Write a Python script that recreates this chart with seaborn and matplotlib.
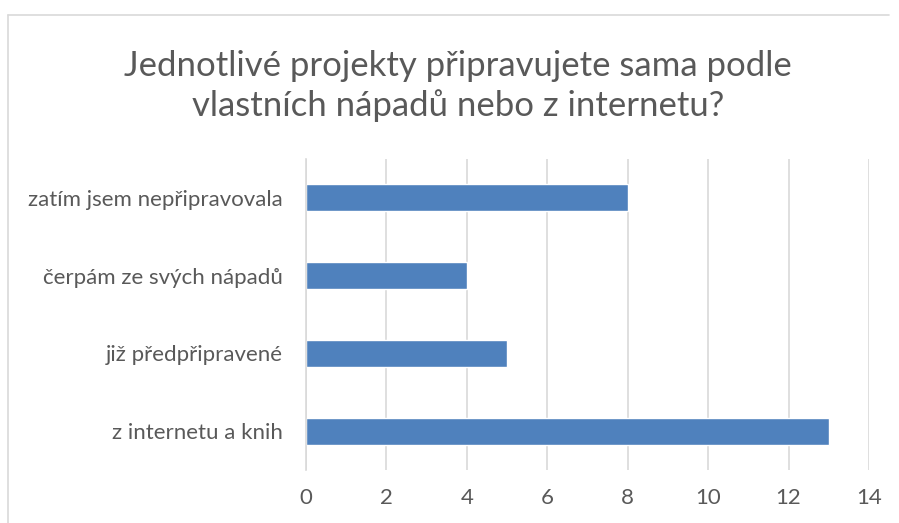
import matplotlib
matplotlib.use("Agg")
import matplotlib.pyplot as plt
import seaborn as sns
import pandas as pd
from matplotlib.lines import Line2D

# data
kategorie = ["zatím jsem nepřipravovala", "čerpám ze svých nápadů",
             "již předpřipravené", "z internetu a knih"]
pocty = [8, 4, 5, 13]
osa_x = [0, 2, 4, 6, 8, 10, 12, 14]

df = pd.DataFrame({"kategorie": kategorie, "pocet": pocty})

sns.set_style("white")
plt.rcParams['font.family'] = ['Lato', 'DejaVu Sans']
text_color = "#595959"

fig = plt.figure(figsize=(8.99, 5.23), dpi=100)
ax = fig.add_axes([306 / 899, 1 - 470 / 523, (869 - 306) / 899, (470 - 159) / 523])

sns.barplot(data=df, x="pocet", y="kategorie", color="#4F81BD", saturation=1,
            width=0.35, orient="h", ax=ax, zorder=3)

ax.set_xlim(0, 14)
ax.set_xticks(osa_x)
ax.set_xticklabels([str(v) for v in osa_x])
ax.xaxis.grid(True, color="#D9D9D9", linewidth=1.2, zorder=0)
ax.yaxis.grid(False)
for s in ["top", "right", "bottom"]:
    ax.spines[s].set_visible(False)
ax.spines["left"].set_color("#D9D9D9")
ax.spines["left"].set_linewidth(1.2)
ax.spines["left"].set_zorder(4)
ax.set_xlabel("")
ax.set_ylabel("")
ax.tick_params(axis="both", length=0, labelsize=16, colors=text_color)
ax.tick_params(axis="y", pad=17)
ax.tick_params(axis="x", pad=13)

fig.text(458 / 899, 1 - 86 / 523, "Jednotlivé projekty připravujete sama podle\nvlastních nápadů nebo z internetu?",
         ha="center", va="center", fontsize=25, color=text_color, linespacing=1.3)

# chart frame
fig.add_artist(Line2D([8 / 899, 8 / 899], [0, 1 - 15 / 523], transform=fig.transFigure,
                      color="#D9D9D9", linewidth=1.2))
fig.add_artist(Line2D([8 / 899, 889 / 899], [1 - 15 / 523, 1 - 15 / 523], transform=fig.transFigure,
                      color="#D9D9D9", linewidth=1.2))

fig.savefig("out.png", dpi=100, facecolor="white")
